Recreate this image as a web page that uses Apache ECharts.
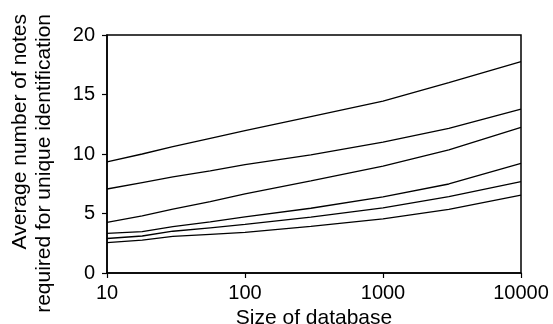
<!DOCTYPE html>
<html>
<head>
<meta charset="utf-8">
<script src="https://cdn.jsdelivr.net/npm/echarts@6/dist/echarts.min.js"></script>
<style>
  html, body { margin: 0; padding: 0; background: #fff; }
  #chart { width: 553px; height: 324px; }
</style>
</head>
<body>
<div id="chart"></div>
<script>
// database sizes (log scale)
const sizes = [10, 18, 30, 56, 100, 300, 1000, 3000, 10000];

// average number of notes, one array per curve (top to bottom)
const curve1 = [9.33, 10.0, 10.62, 11.32, 11.96, 13.15, 14.45, 16.0, 17.76];
const curve2 = [7.06, 7.6, 8.07, 8.58, 9.1, 9.93, 11.0, 12.16, 13.78];
const curve3 = [4.26, 4.8, 5.37, 6.0, 6.64, 7.74, 8.98, 10.34, 12.24];
const curve4 = [3.33, 3.47, 3.9, 4.3, 4.72, 5.44, 6.4, 7.48, 9.22];
const curve5 = [2.9, 3.11, 3.51, 3.8, 4.08, 4.69, 5.47, 6.41, 7.67];
const curve6 = [2.55, 2.77, 3.07, 3.25, 3.42, 3.92, 4.55, 5.35, 6.55];

const curves = [curve1, curve2, curve3, curve4, curve5, curve6];

const yTitle = ['Average number of notes', 'required for unique identification'];

const font = 'Liberation Sans, Arial, sans-serif';

const chart = echarts.init(document.getElementById('chart'));

chart.setOption({
  animation: false,
  grid: {
    left: 107, right: 32, top: 35, bottom: 51,
    outerBoundsMode: 'none',
    containLabel: false,
    show: true,
    borderColor: '#000',
    borderWidth: 1.5
  },
  // y axis title, two lines, both ending near the top
  graphic: yTitle.map((t, i) => ({
    type: 'text',
    x: 20 + i * 24,
    y: 14,
    rotation: Math.PI / 2,
    style: {
      text: t,
      fill: '#000',
      font: '21px ' + font,
      align: 'right',
      verticalAlign: 'middle',
      textAlign: 'right',
      textVerticalAlign: 'middle'
    }
  })),
  xAxis: {
    type: 'log',
    logBase: 10,
    min: 10,
    max: 10000,
    name: 'Size of database',
    nameLocation: 'middle',
    nameGap: 34,
    nameTextStyle: { color: '#000', fontSize: 21, fontFamily: font },
    axisLine: { lineStyle: { color: '#000', width: 1.5 } },
    axisTick: { length: 5, lineStyle: { color: '#000', width: 1.2 } },
    axisLabel: {
      color: '#000', fontSize: 20, fontFamily: font, margin: 10,
      formatter: v => String(Math.round(v))
    },
    splitLine: { show: false },
    minorTick: { show: false }
  },
  yAxis: {
    type: 'value',
    min: 0,
    max: 20,
    interval: 5,
    axisLine: { show: true, lineStyle: { color: '#000', width: 1.5 } },
    axisTick: { show: true, length: 5, lineStyle: { color: '#000', width: 1.2 } },
    axisLabel: { color: '#000', fontSize: 20, fontFamily: font, margin: 12 },
    splitLine: { show: false }
  },
  series: curves.map((c, i) => ({
    name: 'curve' + (i + 1),
    type: 'line',
    data: sizes.map((s, j) => [s, c[j]]),
    symbol: 'none',
    lineStyle: { color: '#000', width: 1.3 }
  }))
});
</script>
</body>
</html>
